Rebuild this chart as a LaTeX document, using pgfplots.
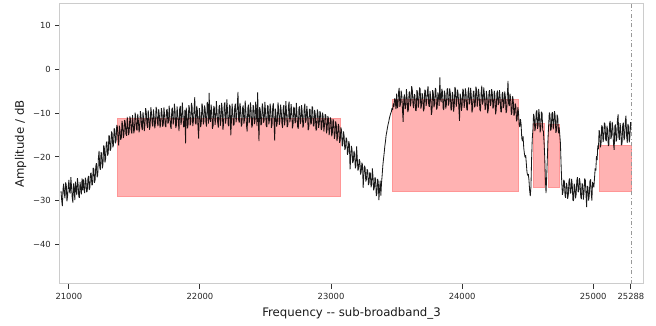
\documentclass[border=0pt]{standalone}
\usepackage{fontspec}
\setmainfont{DejaVu Sans}
\usepackage{pgfplots}
\pgfplotsset{compat=1.18}

\definecolor{bandfill}{RGB}{255,178,178}
\definecolor{bandedge}{RGB}{255,150,150}
\definecolor{ticktext}{RGB}{40,40,40}

\begin{document}
\begin{tikzpicture}
\begin{axis}[
  scale only axis,
  width=437.25pt, height=210pt,
  xmin=20932, xmax=25380,
  ymin=-48.9, ymax=14.8,
  scaled x ticks=false, scaled y ticks=false,
  axis line style={draw=gray!40, line width=0.75pt},
  tick align=outside, tick pos=left,
  major tick length=3.4pt,
  tick style={draw=black!80, line width=0.75pt},
  xtick={21000,22000,23000,24000,25000,25288},
  xticklabels={21000,22000,23000,24000,25000,25288},
  ytick={-40,-30,-20,-10,0,10},
  yticklabels={−40,−30,−20,−10,0,10},
  ticklabel style={font=\fontsize{6.3}{7.5}\selectfont, text=ticktext},
  xlabel={Frequency -{}- sub-broadband\_3},
  ylabel={Amplitude / dB},
  label style={font=\fontsize{8.8}{10.5}\selectfont, text=black!90},
  xlabel style={at={(axis description cs:0.5,0)}, anchor=base, yshift=-24.75pt},
  ylabel style={at={(axis description cs:0,0.5)}, anchor=base, yshift=27pt},
  clip=true,
]
% detected sub-bands
\addplot[fill=bandfill, draw=bandedge, line width=0.5pt]
  coordinates {(21366,-28.9) (21366,-11.15) (23067,-11.15) (23067,-28.9)} -- cycle;
\addplot[fill=bandfill, draw=bandedge, line width=0.5pt]
  coordinates {(23471,-27.9) (23471,-7.0) (24428,-7.0) (24428,-27.9)} -- cycle;
\addplot[fill=bandfill, draw=bandedge, line width=0.5pt]
  coordinates {(24541,-27.0) (24541,-12.3) (24625,-12.3) (24625,-27.0)} -- cycle;
\addplot[fill=bandfill, draw=bandedge, line width=0.5pt]
  coordinates {(24659,-27.0) (24659,-12.5) (24744,-12.5) (24744,-27.0)} -- cycle;
\addplot[fill=bandfill, draw=bandedge, line width=0.5pt]
  coordinates {(25043,-27.9) (25043,-17.3) (25288,-17.3) (25288,-27.9)} -- cycle;

% measured spectrum
\addplot[black, opacity=0.9, line width=0.62pt, mark=none, line join=bevel] coordinates {
(20940,-27.8) (20945,-29.9) (20950,-31.2) (20955,-27.3) (20960,-26.1) (20965,-28.4) (20970,-29.4) (20975,-25.8) (20980,-26.4) (20985,-30.1)
(20990,-28.9) (20995,-26.7) (21000,-25.2) (21005,-27.9) (21010,-28.3) (21015,-24.6) (21020,-26.8) (21025,-29.2) (21030,-30.4) (21035,-26.0)
(21040,-27.1) (21045,-29.8) (21050,-25.6) (21055,-27.4) (21060,-28.7) (21065,-24.8) (21070,-26.2) (21075,-28.9) (21080,-29.3) (21085,-25.7)
(21090,-27.0) (21095,-28.5) (21100,-24.9)
(21105,-27.6) (21110,-25.1) (21115,-27.3) (21120,-28.2) (21125,-24.7) (21130,-25.4) (21135,-28.0) (21140,-27.7) (21145,-24.9) (21150,-24.3)
(21155,-27.5) (21160,-26.9) (21165,-23.8) (21170,-23.6) (21175,-26.4) (21180,-26.3) (21185,-22.5) (21190,-22.7) (21195,-25.9) (21200,-25.2)
(21205,-22.1) (21210,-21.4) (21215,-24.6) (21220,-24.1) (21225,-20.3) (21230,-18.6) (21235,-22.4) (21240,-22.9) (21245,-18.9) (21250,-19.3)
(21255,-22.6) (21260,-21.7) (21265,-17.4) (21270,-17.8) (21275,-21.3) (21280,-20.4) (21285,-16.8) (21290,-16.5) (21295,-19.7) (21300,-19.2)
(21305,-15.1) (21310,-15.4) (21315,-18.6) (21320,-18.1) (21325,-14.2) (21330,-14.6) (21335,-17.8) (21340,-17.3) (21345,-13.5) (21350,-13.8)
(21355,-16.9) (21360,-16.2)
(21365,-12.7) (21370,-13.2) (21375,-15.9) (21380,-17.4) (21385,-12.9) (21390,-13.9) (21395,-16.1) (21400,-15.6) (21405,-11.8) (21410,-12.8)
(21415,-15.7) (21420,-14.9) (21425,-11.6) (21430,-12.1) (21435,-14.8) (21440,-15.2) (21445,-10.9) (21450,-12.6) (21455,-15.0) (21460,-14.3)
(21465,-10.8) (21470,-11.4) (21475,-13.9) (21480,-14.7) (21485,-10.5) (21490,-12.3) (21495,-14.6) (21500,-13.8) (21505,-9.9) (21510,-10.9)
(21515,-13.6) (21520,-14.0) (21525,-10.2) (21530,-11.7) (21535,-14.4) (21540,-13.5) (21545,-9.6) (21550,-10.6) (21555,-13.1) (21560,-13.9)
(21565,-9.8) (21570,-11.2) (21575,-14.1) (21580,-12.8) (21585,-8.9) (21590,-9.7) (21595,-12.5) (21600,-13.4) (21605,-9.4) (21610,-11.0)
(21615,-13.8) (21620,-12.9) (21625,-8.7) (21630,-9.9) (21635,-12.3) (21640,-13.1) (21645,-9.2) (21650,-10.8) (21655,-13.5) (21660,-12.4)
(21665,-8.6) (21670,-9.3) (21675,-12.2) (21680,-13.0) (21685,-9.1) (21690,-10.5) (21695,-13.3) (21700,-12.6)
(21705,-8.9) (21710,-9.8) (21715,-13.1) (21720,-12.7) (21725,-8.7) (21730,-10.4) (21735,-12.9) (21740,-13.2) (21745,-9.4) (21750,-9.1)
(21755,-12.4) (21760,-12.1) (21765,-8.3) (21770,-10.7) (21775,-13.0) (21780,-13.6) (21785,-9.2) (21790,-8.8) (21795,-12.6) (21800,-11.9)
(21805,-7.9) (21810,-9.6) (21815,-13.4) (21820,-12.8) (21825,-8.5) (21830,-10.2) (21835,-12.1) (21840,-14.1) (21845,-9.0) (21850,-8.4)
(21855,-12.7) (21860,-11.6) (21865,-7.6) (21870,-9.9) (21875,-13.2) (21880,-13.0) (21885,-9.3) (21890,-16.9) (21895,-8.8) (21900,-10.3)
(21905,-13.5) (21910,-12.5) (21915,-8.2) (21920,-9.0) (21925,-12.8) (21930,-12.2) (21935,-7.7) (21940,-8.6) (21945,-13.0) (21950,-11.8)
(21955,-9.1) (21960,-6.4) (21965,-12.3) (21970,-12.6) (21975,-8.4) (21980,-9.4) (21985,-13.4) (21990,-15.8) (21995,-8.9) (22000,-10.1)
(22005,-13.2) (22010,-12.3) (22015,-7.8) (22020,-8.7) (22025,-12.6) (22030,-11.9) (22035,-8.3) (22040,-9.2) (22045,-12.1) (22050,-13.1)
(22055,-7.5) (22060,-8.0) (22065,-12.4) (22070,-5.4) (22075,-11.3) (22080,-12.0) (22085,-8.1) (22090,-9.5) (22095,-13.6) (22100,-12.9)
(22105,-8.4) (22110,-8.9) (22115,-12.7) (22120,-11.4) (22125,-7.3) (22130,-9.8) (22135,-12.2) (22140,-13.3) (22145,-8.6) (22150,-8.2)
(22155,-12.9) (22160,-11.7) (22165,-7.7) (22170,-9.1) (22175,-13.8) (22180,-12.5) (22185,-8.0) (22190,-7.6) (22195,-12.4) (22200,-11.2)
(22205,-6.9) (22210,-9.3) (22215,-12.6) (22220,-13.0) (22225,-8.1) (22230,-8.5) (22235,-15.1) (22240,-11.8) (22245,-7.9) (22250,-9.7)
(22255,-12.8) (22260,-12.7) (22265,-8.6) (22270,-7.9) (22275,-12.1) (22280,-11.1) (22285,-8.0) (22290,-5.2) (22295,-11.6) (22300,-12.2)
(22305,-7.7) (22310,-9.0) (22315,-13.1) (22320,-12.6) (22325,-8.8) (22330,-8.3) (22335,-12.4) (22340,-11.5) (22345,-7.2) (22350,-9.6)
(22355,-12.9) (22360,-14.2) (22365,-8.9) (22370,-8.1) (22375,-12.3) (22380,-11.3) (22385,-7.6) (22390,-9.4) (22395,-13.3) (22400,-12.8)
(22405,-8.2) (22410,-8.6) (22415,-12.5) (22420,-11.9) (22425,-7.4) (22430,-9.9) (22435,-13.0) (22440,-5.3) (22445,-11.2) (22450,-16.4)
(22455,-8.7) (22460,-9.2) (22465,-12.8) (22470,-12.4) (22475,-7.8) (22480,-8.8) (22485,-12.2) (22490,-11.6) (22495,-7.5) (22500,-9.5)
(22505,-12.9) (22510,-13.2) (22515,-8.3) (22520,-8.4) (22525,-12.6) (22530,-11.7) (22535,-7.9) (22540,-9.1) (22545,-13.4) (22550,-12.6)
(22555,-8.5) (22560,-7.8) (22565,-12.0) (22570,-16.3) (22575,-9.0) (22580,-10.2) (22585,-13.1) (22590,-12.1) (22595,-7.6) (22600,-8.9)
(22605,-12.7) (22610,-11.8) (22615,-8.1) (22620,-9.6) (22625,-12.4) (22630,-13.4) (22635,-8.7) (22640,-8.2) (22645,-12.8) (22650,-11.5)
(22655,-7.3) (22660,-9.8) (22665,-13.2) (22670,-12.9) (22675,-8.4) (22680,-7.4) (22685,-12.1) (22690,-11.3) (22695,-8.0) (22700,-9.4)
(22705,-13.5) (22710,-12.7) (22715,-8.6) (22720,-8.9) (22725,-12.3) (22730,-12.0) (22735,-7.7) (22740,-10.1) (22745,-13.1) (22750,-13.6)
(22755,-8.8) (22760,-8.5) (22765,-12.5) (22770,-11.9) (22775,-8.2) (22780,-9.7) (22785,-13.3) (22790,-12.8) (22795,-8.9) (22800,-7.9)
(22805,-12.2) (22810,-11.6) (22815,-8.4) (22820,-10.0) (22825,-13.9) (22830,-13.5) (22835,-9.1) (22840,-9.2) (22845,-12.6) (22850,-12.3)
(22855,-8.5) (22860,-8.8) (22865,-13.0) (22870,-12.9) (22875,-9.3) (22880,-10.4) (22885,-14.0) (22890,-13.7) (22895,-9.2) (22900,-9.9)
(22905,-13.4) (22910,-12.4) (22915,-9.6) (22920,-10.1) (22925,-13.9) (22930,-13.3) (22935,-9.9) (22940,-10.8) (22945,-14.2) (22950,-12.9)
(22955,-10.3) (22960,-10.5) (22965,-14.6) (22970,-13.8) (22975,-10.7) (22980,-11.2) (22985,-15.0) (22990,-14.1) (22995,-11.0) (23000,-11.6)
(23005,-15.3) (23010,-14.5) (23015,-11.4) (23020,-12.0) (23025,-15.9) (23030,-15.1) (23035,-11.9) (23040,-12.7) (23045,-16.4) (23050,-15.4)
(23055,-12.5) (23060,-13.1) (23065,-16.8) (23070,-16.2) (23075,-13.3) (23080,-13.9) (23085,-17.6) (23090,-17.0) (23095,-14.2) (23100,-15.3)
(23105,-18.4) (23110,-17.9) (23115,-15.6) (23120,-16.0) (23125,-19.5) (23130,-18.8) (23135,-16.4) (23140,-17.1) (23145,-22.8) (23150,-20.2)
(23155,-17.5) (23160,-18.3) (23165,-21.4) (23170,-20.9) (23175,-18.6) (23180,-19.4) (23185,-22.6) (23190,-22.0) (23195,-17.6) (23200,-20.3)
(23205,-23.1) (23210,-22.6) (23215,-20.5) (23220,-21.0) (23225,-24.0) (23230,-23.4) (23235,-21.3) (23240,-21.8) (23245,-27.0) (23250,-24.3)
(23255,-22.0) (23260,-22.5) (23265,-25.6) (23270,-25.1) (23275,-22.8) (23280,-23.2) (23285,-26.4) (23290,-25.9) (23295,-23.5) (23300,-23.8)
(23305,-26.9) (23310,-26.2) (23315,-22.6) (23320,-24.4) (23325,-27.6) (23330,-27.0) (23335,-24.6) (23340,-25.1) (23345,-28.9) (23350,-28.3)
(23355,-25.0) (23360,-25.6) (23365,-29.8) (23370,-27.4) (23375,-25.4) (23380,-28.8) (23385,-25.9) (23390,-24.1) (23395,-22.0) (23400,-20.5)
(23405,-19.2) (23410,-17.6) (23415,-16.5) (23420,-15.1) (23425,-14.3) (23430,-13.4) (23435,-12.6) (23440,-12.0) (23445,-11.2) (23450,-10.6)
(23455,-10.1) (23460,-9.7) (23465,-8.9) (23470,-9.3) (23475,-7.8) (23480,-8.6) (23485,-6.7) (23490,-7.2) (23495,-9.1)
(23500,-5.6) (23505,-8.9) (23510,-8.4) (23515,-5.2) (23520,-4.3) (23525,-8.6) (23530,-7.9) (23535,-4.9) (23540,-6.1) (23545,-9.3)
(23550,-12.0) (23555,-6.6) (23560,-5.8) (23565,-9.1) (23570,-8.7) (23575,-4.6) (23580,-6.4) (23585,-9.8) (23590,-9.2) (23595,-5.4)
(23600,-5.1) (23605,-8.5) (23610,-7.6) (23615,-3.9) (23620,-4.8) (23625,-8.1) (23630,-8.9) (23635,-5.7) (23640,-6.0) (23645,-9.4)
(23650,-9.5) (23655,-4.8) (23660,-5.3) (23665,-8.8) (23670,-7.8) (23675,-4.2) (23680,-4.5) (23685,-9.0) (23690,-8.3) (23695,-5.5)
(23700,-6.2) (23705,-9.6) (23710,-9.0) (23715,-4.7) (23720,-5.0) (23725,-8.4) (23730,-7.4) (23735,-5.1) (23740,-3.9) (23745,-8.2)
(23750,-8.6) (23755,-5.0) (23760,-6.3) (23765,-10.4) (23770,-9.7) (23775,-4.8) (23780,-5.4) (23785,-8.7) (23790,-7.9) (23795,-4.3)
(23800,-4.7) (23805,-9.2) (23810,-8.8) (23815,-5.3) (23820,-6.1) (23825,-8.4) (23830,-1.9) (23835,-6.8) (23840,-7.5) (23845,-4.5)
(23850,-5.2) (23855,-8.9) (23860,-9.3) (23865,-4.9) (23870,-5.9) (23875,-9.0) (23880,-8.1) (23885,-4.6) (23890,-4.4) (23895,-8.3)
(23900,-7.7) (23905,-4.4) (23910,-5.5) (23915,-9.4) (23920,-9.1) (23925,-5.2) (23930,-6.0) (23935,-9.7) (23940,-8.4) (23945,-4.1)
(23950,-4.6) (23955,-8.6) (23960,-7.3) (23965,-4.7) (23970,-5.8) (23975,-8.9) (23980,-11.8) (23985,-5.6) (23990,-6.4) (23995,-9.5)
(24000,-8.2) (24005,-4.5) (24010,-4.9) (24015,-8.8) (24020,-7.8) (24025,-4.4) (24030,-5.6) (24035,-9.1) (24040,-9.4) (24045,-5.3)
(24050,-4.2) (24055,-8.0) (24060,-7.6) (24065,-4.3) (24070,-6.1) (24075,-9.9) (24080,-9.0) (24085,-5.1) (24090,-5.0) (24095,-8.7)
(24100,-8.3) (24105,-4.0) (24110,-4.7) (24115,-8.6) (24120,-7.2) (24125,-4.5) (24130,-5.9) (24135,-9.2) (24140,-9.6) (24145,-5.4)
(24150,-3.8) (24155,-8.1) (24160,-7.4) (24165,-4.2) (24170,-5.7) (24175,-9.3) (24180,-8.8) (24185,-5.0) (24190,-6.2) (24195,-10.1)
(24200,-9.1) (24205,-5.2) (24210,-4.8) (24215,-8.4) (24220,-7.9) (24225,-4.6) (24230,-5.4) (24235,-9.0) (24240,-8.5) (24245,-4.9)
(24250,-6.0) (24255,-10.3) (24260,-9.4) (24265,-5.5) (24270,-4.9) (24275,-8.2) (24280,-7.7) (24285,-4.8) (24290,-6.5) (24295,-9.7)
(24300,-9.8) (24305,-5.7) (24310,-5.2) (24315,-8.9) (24320,-8.0) (24325,-5.1) (24330,-6.3) (24335,-10.0) (24340,-9.5) (24345,-5.8)
(24350,-2.7) (24355,-7.9) (24360,-8.4) (24365,-5.6) (24370,-6.6) (24375,-10.4) (24380,-9.9) (24385,-6.2) (24390,-7.0) (24395,-10.6)
(24400,-10.2) (24405,-7.8) (24410,-8.6) (24415,-11.9) (24420,-11.4) (24425,-8.7) (24430,-9.8) (24435,-12.6) (24440,-13.2) (24445,-11.4)
(24450,-12.6) (24455,-15.7) (24460,-16.4) (24465,-15.3) (24470,-17.9) (24475,-19.2) (24480,-20.1) (24485,-19.6) (24490,-21.6) (24495,-23.5)
(24500,-24.2) (24505,-23.9) (24510,-25.3) (24515,-27.6) (24520,-28.9) (24525,-26.8) (24530,-20.5) (24535,-15.9) (24540,-13.8) (24545,-10.2)
(24550,-10.9) (24555,-14.1) (24560,-13.2) (24565,-9.8) (24570,-9.4) (24575,-13.6) (24580,-12.8) (24585,-9.1) (24590,-10.6) (24595,-14.4)
(24600,-13.5) (24605,-9.7) (24610,-10.1) (24615,-13.9) (24620,-14.2) (24625,-16.6) (24630,-19.8) (24635,-24.9) (24640,-28.2) (24645,-24.6)
(24650,-20.4) (24655,-15.8) (24660,-12.9) (24665,-9.9) (24670,-10.3) (24675,-14.0) (24680,-13.6) (24685,-10.1) (24690,-9.8) (24695,-13.7)
(24700,-12.4) (24705,-9.6) (24710,-10.7) (24715,-14.5) (24720,-14.0) (24725,-10.4) (24730,-11.1) (24735,-14.6) (24740,-13.3) (24745,-14.9)
(24750,-16.9) (24755,-21.8) (24760,-25.7) (24765,-28.6)
(24770,-27.9) (24775,-25.2) (24780,-25.6) (24785,-28.8) (24790,-29.3) (24795,-25.9) (24800,-26.4) (24805,-29.5) (24810,-28.7) (24815,-25.4)
(24820,-24.9) (24825,-28.3) (24830,-28.1) (24835,-25.0) (24840,-26.2) (24845,-29.8) (24850,-30.0) (24855,-26.1) (24860,-26.8) (24865,-29.4)
(24870,-28.5) (24875,-25.3) (24880,-24.6) (24885,-28.0) (24890,-27.7) (24895,-24.8) (24900,-25.9) (24905,-29.1) (24910,-29.6) (24915,-26.0)
(24920,-26.5) (24925,-29.7) (24930,-28.2) (24935,-24.9) (24940,-25.3) (24945,-28.6) (24950,-31.4) (24955,-26.6) (24960,-26.9) (24965,-29.9)
(24970,-28.8) (24975,-25.5) (24980,-25.1) (24985,-28.4) (24990,-29.9) (24995,-25.7) (25000,-26.3)
(25005,-26.9) (25010,-24.8) (25015,-22.6) (25020,-23.1) (25025,-19.8) (25030,-20.7) (25035,-17.4) (25040,-18.2) (25045,-13.9) (25050,-14.6)
(25055,-17.8) (25060,-16.9) (25065,-12.8) (25070,-13.2) (25075,-16.6) (25080,-15.8) (25085,-12.2) (25090,-12.5) (25095,-16.0) (25100,-16.4)
(25105,-12.9) (25110,-13.9) (25115,-17.5) (25120,-17.2) (25125,-12.4) (25130,-11.8) (25135,-15.9) (25140,-15.3) (25145,-12.0) (25150,-13.4)
(25155,-17.1) (25160,-18.4) (25165,-13.0) (25170,-12.6) (25175,-16.5) (25180,-15.9) (25185,-11.6) (25190,-10.3) (25195,-15.4) (25200,-16.1)
(25205,-12.3) (25210,-13.5) (25215,-17.3) (25220,-17.0) (25225,-12.7) (25230,-12.2) (25235,-16.2) (25240,-15.6) (25245,-11.9) (25250,-10.6)
(25255,-15.2) (25260,-16.8) (25265,-12.5) (25270,-13.1) (25275,-16.7) (25280,-15.4) (25285,-12.1) (25288,-13.7)
};

% end of the analysed span
\addplot[gray!80, dash dot, line width=0.6pt] coordinates {(25288,-48.9) (25288,14.8)};
\end{axis}
\pgfresetboundingbox
\path[use as bounding box] ([shift={(-45pt,-31.5pt)}]current axis.south west) rectangle ([shift={(9.75pt,3pt)}]current axis.north east);
\end{tikzpicture}
\end{document}
